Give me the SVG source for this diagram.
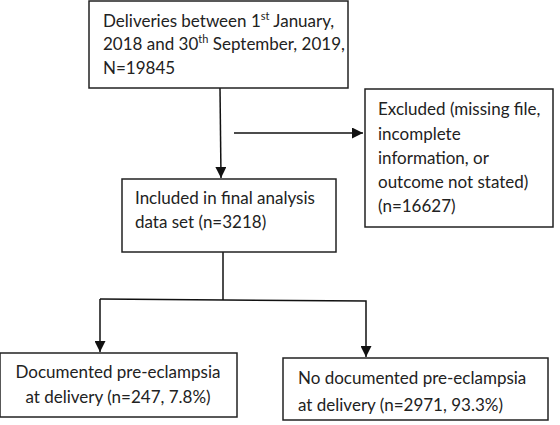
<svg xmlns="http://www.w3.org/2000/svg" width="560" height="425" viewBox="0 0 560 425">
<defs>
<marker id="ah" viewBox="0 0 10 10" refX="10" refY="5" markerWidth="11" markerHeight="11" markerUnits="userSpaceOnUse" orient="auto">
<path d="M0,0 L10,5 L0,10 z" fill="#111"/>
</marker>
<style>
.box{fill:#fff;stroke:#222;stroke-width:1.5}
.t{font-family:Lato,"Liberation Sans",sans-serif;font-size:17px;fill:#222}
.c{text-anchor:middle}
.ln{fill:none;stroke:#111;stroke-width:1.5}
.sup{font-size:11px}
</style>
</defs>
<rect width="560" height="425" fill="#fff"/>
<g id="connectors">
<line class="ln" x1="220" y1="88" x2="221" y2="178" marker-end="url(#ah)"/>
<line class="ln" x1="234" y1="133" x2="363" y2="133" marker-end="url(#ah)"/>
<polyline class="ln" points="223,252 223,300"/>
<polyline class="ln" points="100,299 366,301 366,357" marker-end="url(#ah)"/>
<line class="ln" x1="100" y1="299" x2="100" y2="352" marker-end="url(#ah)"/>
</g>
<g id="n1">
<rect class="box" x="89" y="1" width="259" height="87"/>
<text class="t" x="103" y="27">Deliveries between 1<tspan class="sup" dy="-7">st</tspan><tspan dy="7"> January,</tspan></text>
<text class="t" x="103" y="50">2018 and 30<tspan class="sup" dy="-7">th</tspan><tspan dy="7"> September, 2019,</tspan></text>
<text class="t" x="103" y="74">N=19845</text>
</g>
<g id="n2">
<rect class="box" x="365" y="89" width="188" height="138"/>
<text class="t" x="378" y="115">Excluded (missing file,</text>
<text class="t" x="378" y="140">incomplete</text>
<text class="t" x="378" y="164">information, or</text>
<text class="t" x="378" y="188">outcome not stated)</text>
<text class="t" x="378" y="212">(n=16627)</text>
</g>
<g id="n3">
<rect class="box" x="122" y="179" width="214" height="73"/>
<text class="t" x="135" y="204">Included in final analysis</text>
<text class="t" x="135" y="228">data set (n=3218)</text>
</g>
<g id="n4">
<rect class="box" x="0" y="353" width="237" height="64"/>
<text class="t c" x="118" y="378">Documented pre-eclampsia</text>
<text class="t c" x="118" y="403">at delivery (n=247, 7.8%)</text>
</g>
<g id="n5">
<rect class="box" x="283" y="358" width="265" height="62"/>
<text class="t" x="298" y="384">No documented pre-eclampsia</text>
<text class="t" x="298" y="411">at delivery (n=2971, 93.3%)</text>
</g>
</svg>
